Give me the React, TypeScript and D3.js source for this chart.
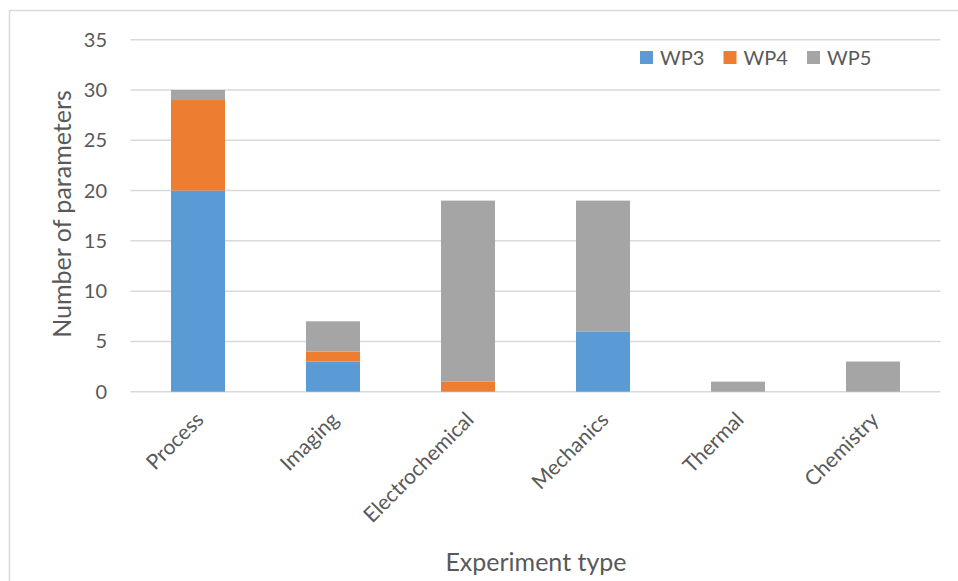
import React from "react";
import * as d3 from "d3";

const categories = ["Process", "Imaging", "Electrochemical", "Mechanics", "Thermal", "Chemistry"];
const seriesNames = ["WP3", "WP4", "WP5"];
const wp3 = [20, 3, 0, 6, 0, 0];
const wp4 = [9, 1, 1, 0, 0, 0];
const wp5 = [1, 3, 18, 13, 1, 3];
const yTicks = [0, 5, 10, 15, 20, 25, 30, 35];
const colors = ["#5B9BD5", "#ED7D31", "#A5A5A5"];

const W = 958;
const H = 581;
const FONT = "Lato, 'Open Sans', sans-serif";
const TEXT = "#595959";

export default function App() {
  const left = 130.5;
  const right = 940.5;
  const top = 39.7;
  const bottom = 391.7;

  const x = d3.scaleBand<string>().domain(categories).range([left, right]).paddingInner(0.6).paddingOuter(0.3);
  const y = d3.scaleLinear().domain([0, 35]).range([bottom, top]);

  const rows = categories.map((c, i) => ({ cat: c, WP3: wp3[i], WP4: wp4[i], WP5: wp5[i] }));
  const stacked = d3.stack<any>().keys(seriesNames)(rows);

  const legendX = [640, 723.5, 807];

  return (
    <svg width={W} height={H} style={{ position: "absolute", left: 0, top: 0, background: "#fff" }} fontFamily={FONT}>
      <rect x={9.5} y={10.5} width={W + 20} height={H + 20} fill="#fff" stroke="#D9D9D9" strokeWidth={1.5} />
      {yTicks.map((t) => (
        <g key={t}>
          <line x1={left} x2={right} y1={y(t)} y2={y(t)} stroke="#D9D9D9" strokeWidth={1.5} />
          <text x={107} y={y(t)} dy="0.35em" textAnchor="end" fontSize={20} fill={TEXT}>
            {t}
          </text>
        </g>
      ))}
      {stacked.map((s, si) =>
        s.map((d, i) =>
          d[1] - d[0] > 0 ? (
            <rect
              key={`${si}-${i}`}
              x={x(categories[i])}
              width={x.bandwidth()}
              y={y(d[1])}
              height={y(d[0]) - y(d[1])}
              fill={colors[si]}
            />
          ) : null
        )
      )}
      {categories.map((c) => {
        const cx = (x(c) as number) + x.bandwidth() / 2 + 7;
        const cy = 421;
        return (
          <text key={c} x={cx} y={cy} textAnchor="end" fontSize={21} fill={TEXT} transform={`rotate(-45 ${cx} ${cy})`}>
            {c}
          </text>
        );
      })}
      <text
        x={0}
        y={0}
        transform={`translate(71 214) rotate(-90)`}
        textAnchor="middle"
        fontSize={25}
        fill={TEXT}
      >
        Number of parameters
      </text>
      <text x={536} y={571} textAnchor="middle" fontSize={25} fill={TEXT}>
        Experiment type
      </text>
      {seriesNames.map((n, i) => (
        <g key={n}>
          <rect x={legendX[i]} y={51} width={13} height={13} fill={colors[i]} />
          <text x={legendX[i] + 20} y={57.5} dy="0.35em" fontSize={20} fill={TEXT}>
            {n}
          </text>
        </g>
      ))}
    </svg>
  );
}
